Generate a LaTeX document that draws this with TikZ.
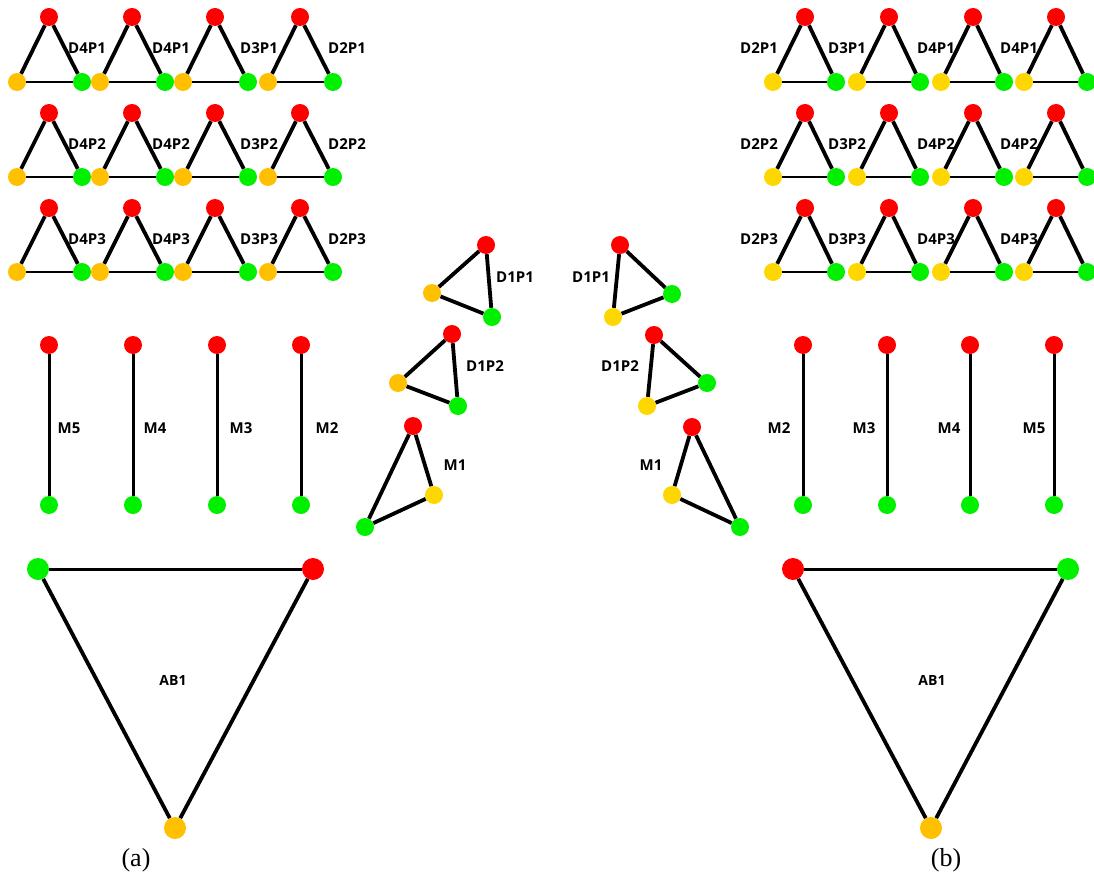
\documentclass[tikz,border=0pt]{standalone}
\usepackage{fontspec}
\setmainfont{Liberation Serif}
\newfontfamily\lblfont{Open Sans}
\definecolor{nred}{HTML}{FF0000}
\definecolor{ngreen}{HTML}{00F000}
\definecolor{namber}{HTML}{FFC000}
\definecolor{ngold}{HTML}{FFD700}
\tikzset{
  vtx/.style={circle, minimum size=18pt, inner sep=0pt, draw=none},
  bigvtx/.style={circle, minimum size=22pt, inner sep=0pt, draw=none},
  edgeside/.style={line width=3.8pt},
  edgebase/.style={line width=2.9pt},
  edgem/.style={line width=3pt},
  labtxt/.style={font=\lblfont\bfseries\fontsize{15}{15}\selectfont, inner sep=0pt},
  abtxt/.style={font=\lblfont\bfseries\fontsize{14}{14}\selectfont, inner sep=0pt},
  captxt/.style={font=\fontsize{26}{26}\selectfont, inner sep=0pt}
}
\begin{document}
\begin{tikzpicture}[x=1pt,y=-1pt]
\useasboundingbox (0,0) rectangle (1094,877);
% ---- top-left grid
\foreach \ry/\by/\p [count=\ri] in {17/82/1, 113/177/2, 208/272/3}{
  \foreach \ox/\lx/\d [count=\ci] in {17/87/4, 100/171/4, 183/259/3, 268/347/2}{
    \node[vtx, fill=nred] (Lr\ri\ci) at (\ox+32,\ry) {};
    \node[vtx, fill=namber] (Lo\ri\ci) at (\ox,\by) {};
    \node[vtx, fill=ngreen] (Lg\ri\ci) at (\ox+65,\by) {};
    \node[labtxt] (Ll\ri\ci) at (\lx,\ry+31.5) {D\d P\p};
    \draw[edgeside] (Lr\ri\ci) -- (Lo\ri\ci);
    \draw[edgeside] (Lr\ri\ci) -- (Lg\ri\ci);
    \draw[edgebase] (Lo\ri\ci) -- (Lg\ri\ci);
  }
}
% ---- top-right grid
\foreach \ry/\by/\p [count=\ri] in {17/82/1, 113/177/2, 208/272/3}{
  \foreach \ox/\lx/\d [count=\ci] in {773/759/2, 857/847/3, 941/936/4, 1024/1019/4}{
    \node[vtx, fill=nred] (Rr\ri\ci) at (\ox+32,\ry) {};
    \node[vtx, fill=ngold] (Ro\ri\ci) at (\ox,\by) {};
    \node[vtx, fill=ngreen] (Rg\ri\ci) at (\ox+63,\by) {};
    \node[labtxt] (Rl\ri\ci) at (\lx,\ry+31.5) {D\d P\p};
    \draw[edgeside] (Rr\ri\ci) -- (Ro\ri\ci);
    \draw[edgeside] (Rr\ri\ci) -- (Rg\ri\ci);
    \draw[edgebase] (Ro\ri\ci) -- (Rg\ri\ci);
  }
}
% ---- middle left
\node[vtx, fill=nred] (a1r) at (486,245) {};
\node[vtx, fill=namber] (a1o) at (432,293) {};
\node[vtx, fill=ngreen] (a1g) at (492,317) {};
\node[labtxt] (a1l) at (515,277) {D1P1};
\draw[edgeside] (a1r) -- (a1o); \draw[edgeside] (a1r) -- (a1g); \draw[edgeside] (a1o) -- (a1g);
\node[vtx, fill=nred] (a2r) at (452,334) {};
\node[vtx, fill=namber] (a2o) at (398,383) {};
\node[vtx, fill=ngreen] (a2g) at (458,406) {};
\node[labtxt] (a2l) at (485,366) {D1P2};
\draw[edgeside] (a2r) -- (a2o); \draw[edgeside] (a2r) -- (a2g); \draw[edgeside] (a2o) -- (a2g);
\node[vtx, fill=nred] (a3r) at (413,426) {};
\node[vtx, fill=ngold] (a3o) at (434,495) {};
\node[vtx, fill=ngreen] (a3g) at (365,527) {};
\node[labtxt] (a3l) at (455,465) {M1};
\draw[edgeside] (a3r) -- (a3o); \draw[edgeside] (a3r) -- (a3g); \draw[edgeside] (a3o) -- (a3g);
% ---- middle right
\node[vtx, fill=nred] (b1r) at (620,245) {};
\node[vtx, fill=ngreen] (b1g) at (672,294) {};
\node[vtx, fill=ngold] (b1o) at (613,317) {};
\node[labtxt] (b1l) at (591,277) {D1P1};
\draw[edgeside] (b1r) -- (b1o); \draw[edgeside] (b1r) -- (b1g); \draw[edgeside] (b1o) -- (b1g);
\node[vtx, fill=nred] (b2r) at (654,335) {};
\node[vtx, fill=ngreen] (b2g) at (707,383) {};
\node[vtx, fill=ngold] (b2o) at (647,406) {};
\node[labtxt] (b2l) at (620,366) {D1P2};
\draw[edgeside] (b2r) -- (b2o); \draw[edgeside] (b2r) -- (b2g); \draw[edgeside] (b2o) -- (b2g);
\node[vtx, fill=nred] (b3r) at (692,427) {};
\node[vtx, fill=ngold] (b3o) at (672,495) {};
\node[vtx, fill=ngreen] (b3g) at (740,527) {};
\node[labtxt] (b3l) at (651,465) {M1};
\draw[edgeside] (b3r) -- (b3o); \draw[edgeside] (b3r) -- (b3g); \draw[edgeside] (b3o) -- (b3g);
% ---- M lines
\foreach \mx/\lx/\m in {49/69/5, 133/155/4, 217/241/3, 301/327/2}{
  \node[vtx, fill=nred] (Mr\m) at (\mx,345) {};
  \node[vtx, fill=ngreen] (Mg\m) at (\mx,505) {};
  \node[labtxt] (Ml\m) at (\lx,428) {M\m};
  \draw[edgem] (Mr\m) -- (Mg\m);
}
\foreach \mx/\lx/\m in {803/779/2, 887/864/3, 970/949/4, 1054/1034/5}{
  \node[vtx, fill=nred] (Nr\m) at (\mx,345) {};
  \node[vtx, fill=ngreen] (Ng\m) at (\mx,505) {};
  \node[labtxt] (Nl\m) at (\lx,428) {M\m};
  \draw[edgem] (Nr\m) -- (Ng\m);
}
% ---- big triangles
\node[bigvtx, fill=ngreen] (ABLg) at (38,569) {};
\node[bigvtx, fill=nred] (ABLr) at (313,569) {};
\node[bigvtx, fill=namber] (ABLo) at (175,828) {};
\node[abtxt] (ABLl) at (173,680) {AB1};
\draw[edgem] (ABLg) -- (ABLr);
\draw[edgeside] (ABLg) -- (ABLo);
\draw[edgeside] (ABLr) -- (ABLo);
\node[bigvtx, fill=nred] (ABRr) at (793,569) {};
\node[bigvtx, fill=ngreen] (ABRg) at (1068,569) {};
\node[bigvtx, fill=namber] (ABRo) at (931,828) {};
\node[abtxt] (ABRl) at (932,680) {AB1};
\draw[edgem] (ABRr) -- (ABRg);
\draw[edgeside] (ABRr) -- (ABRo);
\draw[edgeside] (ABRg) -- (ABRo);
% ---- captions
\node[captxt] (capa) at (136,860) {(a)};
\node[captxt] (capb) at (946,860) {(b)};
\end{tikzpicture}
\end{document}
